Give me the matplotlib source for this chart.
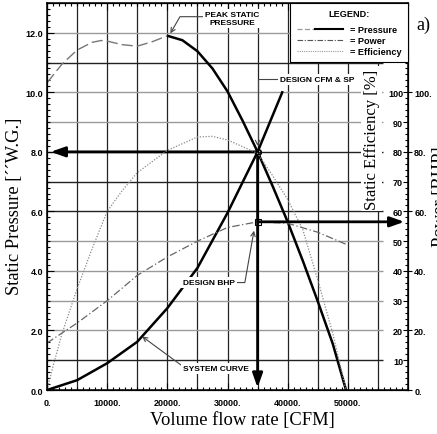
'''Fan performance chart: static pressure, power and efficiency vs flow rate.'''

import matplotlib
matplotlib.use('Agg')
import matplotlib.pyplot as plt
from matplotlib.legend_handler import HandlerBase
from matplotlib.lines import Line2D
from matplotlib.ticker import MultipleLocator

# Fan curve, rising (dashed) part up to the peak: CFM and inches W.G.
CFM_STABLE = [0, 2500, 5000, 7500, 9000, 10000, 12500, 15000, 17500, 20000]
SP_STABLE = [10.32, 10.95, 11.42, 11.68, 11.74, 11.72, 11.6, 11.55, 11.7, 11.9]
# Fan curve past the peak (solid)
CFM_OPERATING = [20000, 22500, 25000, 27500, 30000, 32500, 35000, 37500,
                 40000, 42500, 45000, 47500, 49700]
SP_OPERATING = [11.9, 11.75, 11.38, 10.8, 10.03, 9.05, 8.0, 6.85,
                5.65, 4.35, 2.98, 1.55, 0.0]
# System curve
CFM_SYSTEM = [0, 5000, 10000, 15000, 20000, 25000, 30000, 35000, 39100]
SP_SYSTEM = [0.0, 0.33, 0.9, 1.62, 2.75, 4.1, 5.95, 8.0, 10.0]
# Brake horsepower
CFM_POWER = [0, 5000, 10000, 15000, 20000, 25000, 30000, 35000, 40000,
             45000, 50000]
BHP = [15.8, 22.5, 30.0, 38.5, 44.7, 50.0, 54.6, 56.5, 56.0, 53.0, 48.7]
# Static efficiency, %
CFM_EFF = [0, 1000, 2500, 5000, 7500, 10000, 12500, 15000, 20000, 25000,
           27500, 30000, 35000, 37500, 40000, 42500, 45000, 47500, 49700]
EFFICIENCY = [0, 8, 19, 34, 47.5, 60, 67, 73, 80.5, 85, 85.2, 84, 79.5, 72,
              64, 54, 37, 19, 0]

DESIGN_CFM = 35000
DESIGN_SP = 8.0
DESIGN_BHP = 56.5

X_TICKS = [0, 10000, 20000, 30000, 40000, 50000]
X_TICK_LABELS = ['0.', '10000.', '20000.', '30000.', '40000.', '50000.']
SP_TICKS = [0, 2, 4, 6, 8, 10, 12]
SP_TICK_LABELS = ['0.0', '2.0', '4.0', '6.0', '8.0', '10.0', '12.0']
EFF_TICKS = [10, 20, 30, 40, 50, 60, 70, 80, 90, 100]
EFF_TICK_LABELS = ['10', '20', '30', '40', '50', '60', '70', '80', '90', '100']
BHP_TICKS = [0, 20, 40, 60, 80, 100]
BHP_TICK_LABELS = ['0.', '20.', '40.', '60.', '80.', '100.']
GRID_CFM = [5000, 10000, 15000, 20000, 25000, 30000, 35000, 40000, 45000,
            50000, 55000]
GRID_SP = [1, 2, 3, 4, 5, 6, 7, 8, 9, 10, 11, 12]
GRID_SP_DARK = [1, 6, 7, 8, 11]

SANS = 'Liberation Sans'
SERIF = 'Liberation Serif'
DASH_GRAY = '#777777'


class PressureHandler(HandlerBase):
    '''Legend sample: dashed gray stub followed by the solid black line.'''

    def create_artists(self, legend, orig_handle, xdescent, ydescent,
                       width, height, fontsize, trans):
        y = height / 2 - ydescent
        x0 = -xdescent
        split = x0 + width * 0.4
        dashed = Line2D([x0, split], [y, y], color='#999999', lw=0.9,
                        dashes=(4, 2), transform=trans)
        solid = Line2D([split, x0 + width], [y, y], color='black', lw=1.5,
                       transform=trans)
        return [dashed, solid]


def draw_grid(ax):
    for x in GRID_CFM:
        ax.axvline(x, color='#222222', lw=0.9, zorder=1)
    for y in GRID_SP:
        color = '#222222' if y in GRID_SP_DARK else '#9a9a9a'
        ax.hlines(y, 0, 55800, color=color, lw=1.0, zorder=1)


def draw_arrow(ax, xy, xytext, xycoords='data'):
    ax.annotate('', xy=xy, xycoords=xycoords, xytext=xytext,
                textcoords='data',
                arrowprops=dict(arrowstyle='-|>,head_length=0.85,head_width=0.3',
                                lw=2.0, color='black', shrinkA=0, shrinkB=0),
                zorder=4)


def callout(ax, text, xy, xytext, relpos, connection):
    ax.annotate(text, xy=xy, xytext=xytext, ha='left', va='center',
                multialignment='center',
                fontsize=6, fontweight='bold', family=SANS,
                bbox=dict(boxstyle='square,pad=0.25', fc='white', ec='none'),
                arrowprops=dict(arrowstyle='->', color='#444444', lw=0.8,
                                relpos=relpos, connectionstyle=connection,
                                shrinkA=0, shrinkB=0, mutation_scale=8),
                zorder=3)


def main():
    plt.rcParams['font.family'] = SANS
    plt.rcParams['font.weight'] = 'bold'

    fig = plt.figure(figsize=(4.37, 4.35), dpi=100)
    ax = fig.add_axes([0.1076, 0.1011, 0.826, 0.8897])
    ax.set_xlim(0, 60000)
    ax.set_ylim(0, 13)

    draw_grid(ax)

    # fan and system curves
    ax.plot(CFM_STABLE, SP_STABLE, color=DASH_GRAY, lw=1.0, dashes=(8, 3),
            zorder=2)
    ax.plot(CFM_OPERATING, SP_OPERATING, color='black', lw=1.8, zorder=2,
            solid_capstyle='butt')
    ax.plot(CFM_SYSTEM, SP_SYSTEM, color='black', lw=1.8, zorder=2)

    # design point projections
    draw_arrow(ax, (0.01, DESIGN_SP), (DESIGN_CFM, DESIGN_SP),
               xycoords=('axes fraction', 'data'))
    draw_arrow(ax, (DESIGN_CFM, 0.006), (DESIGN_CFM, DESIGN_SP),
               xycoords=('data', 'axes fraction'))
    ax.plot([DESIGN_CFM], [DESIGN_SP], marker='o', ms=4, mfc='none',
            mec='black', mew=1.2, zorder=5)

    # axes, ticks
    ax.set_xticks(X_TICKS)
    ax.set_xticklabels(X_TICK_LABELS)
    ax.set_yticks(SP_TICKS)
    ax.set_yticklabels(SP_TICK_LABELS)
    ax.xaxis.set_minor_locator(MultipleLocator(1000))
    ax.yaxis.set_minor_locator(MultipleLocator(0.2))
    ax.tick_params(which='both', direction='in', top=True, right=False,
                   labelsize=6.5, width=0.8)
    ax.tick_params(which='major', length=5)
    ax.tick_params(which='minor', length=2.5)
    ax.tick_params(axis='x', pad=6)
    ax.tick_params(axis='y', pad=3)
    for spine in ax.spines.values():
        spine.set_linewidth(1.1)

    ax.set_xlabel('Volume flow rate [CFM]', family=SERIF, fontweight='normal',
                  fontsize=13.3)
    ax.xaxis.set_label_coords(0.54, -0.075)
    ax.xaxis.label.set_va('center')
    ax.set_ylabel('Static Pressure [\u00b4\u00b4W.G.]', family=SERIF,
                  fontweight='normal', fontsize=13.3)
    ax.yaxis.set_label_coords(-0.091, 0.478)
    ax.yaxis.label.set_va('center')

    # callouts
    callout(ax, 'PEAK STATIC\nPRESSURE', (20500, 11.98), (26300, 12.48),
            (0, 0.62), 'angle,angleA=0,angleB=60,rad=0')
    callout(ax, 'DESIGN CFM & SP', (DESIGN_CFM, 8.2), (38700, 10.44),
            (0, 0.5), 'angle,angleA=0,angleB=90,rad=0')
    callout(ax, 'DESIGN BHP', (34400, 5.35), (22600, 3.61),
            (1, 0.5), 'angle,angleA=0,angleB=80,rad=0')
    callout(ax, 'SYSTEM CURVE', (15800, 1.8), (22600, 0.72),
            (0, 0.8), 'arc3')

    # efficiency axis, labels inside the frame
    ax_eff = ax.twinx()
    ax_eff.set_ylim(0, 130)
    ax_eff.plot(CFM_EFF, EFFICIENCY, color='#8a8a8a', lw=0.9,
                dashes=(1, 1.3), zorder=2)
    ax_eff.set_yticks(EFF_TICKS)
    ax_eff.set_yticklabels(EFF_TICK_LABELS)
    ax_eff.yaxis.set_minor_locator(MultipleLocator(2))
    ax_eff.tick_params(axis='y', which='both', direction='in', width=0.8,
                       labelsize=6.5, pad=-3.5)
    ax_eff.tick_params(axis='y', which='major', length=3.5)
    ax_eff.tick_params(axis='y', which='minor', length=2)
    for lbl in ax_eff.get_yticklabels():
        lbl.set_horizontalalignment('right')
    ax_eff.set_ylabel('Static Efficiency [%]', family=SERIF,
                      fontweight='normal', fontsize=12,
                      bbox=dict(boxstyle='square,pad=0.15', fc='white',
                                ec='none'))
    ax_eff.yaxis.set_label_coords(0.900, 0.649)
    ax_eff.yaxis.label.set_va('center')
    ax_eff.yaxis.label.set_ha('center')

    # power axis, outside the frame
    ax_pow = ax.twinx()
    ax_pow.set_ylim(0, 130)
    ax_pow.plot(CFM_POWER, BHP, color='#666666', lw=0.9,
                dashes=(6, 2, 1, 2), zorder=2)
    ax_pow.set_yticks(BHP_TICKS)
    ax_pow.set_yticklabels(BHP_TICK_LABELS)
    ax_pow.tick_params(axis='y', direction='out', length=3, width=0.8,
                       labelsize=6.5, pad=1.5)
    ax_pow.plot([DESIGN_CFM], [DESIGN_BHP], marker='s', ms=5, mfc='none',
                mec='black', mew=0.8, zorder=5)
    draw_arrow(ax_pow, (0.99, DESIGN_BHP), (DESIGN_CFM, DESIGN_BHP),
               xycoords=('axes fraction', 'data'))
    ax_pow.set_ylabel('Power [BHP]', family=SERIF, fontweight='normal',
                      fontsize=13.3)
    ax_pow.yaxis.set_label_coords(1.091, 0.501)
    ax_pow.yaxis.label.set_va('center')
    ax_pow.yaxis.label.set_ha('center')

    # legend box in the top right corner
    handles = [
        Line2D([], [], color='black'),
        Line2D([], [], color='#555555', lw=0.8, dashes=(5, 1.5, 1, 1.5)),
        Line2D([], [], color='#999999', lw=0.8, dashes=(1, 1)),
    ]
    leg = ax_pow.legend(handles, ['= Pressure', '= Power', '= Efficiency'],
                        handler_map={handles[0]: PressureHandler()},
                        loc='upper right', bbox_to_anchor=(1, 1),
                        borderaxespad=0, fancybox=False, framealpha=1,
                        edgecolor='black', title='LEGEND:',
                        prop=dict(family=SANS, weight='bold', size=6.6),
                        title_fontproperties=dict(family=SANS, weight='bold',
                                                  size=6.6),
                        handlelength=5.0, handletextpad=0.8,
                        labelspacing=0.2, borderpad=0.7)
    leg.get_frame().set_linewidth(0.8)
    leg._legend_box.sep = 5

    fig.text(423 / 437, 1 - 25 / 435, 'a)', family=SERIF, fontweight='normal',
             fontsize=13, ha='center', va='center')

    fig.savefig('out.png', dpi=100)
    plt.close(fig)


if __name__ == '__main__':
    main()
